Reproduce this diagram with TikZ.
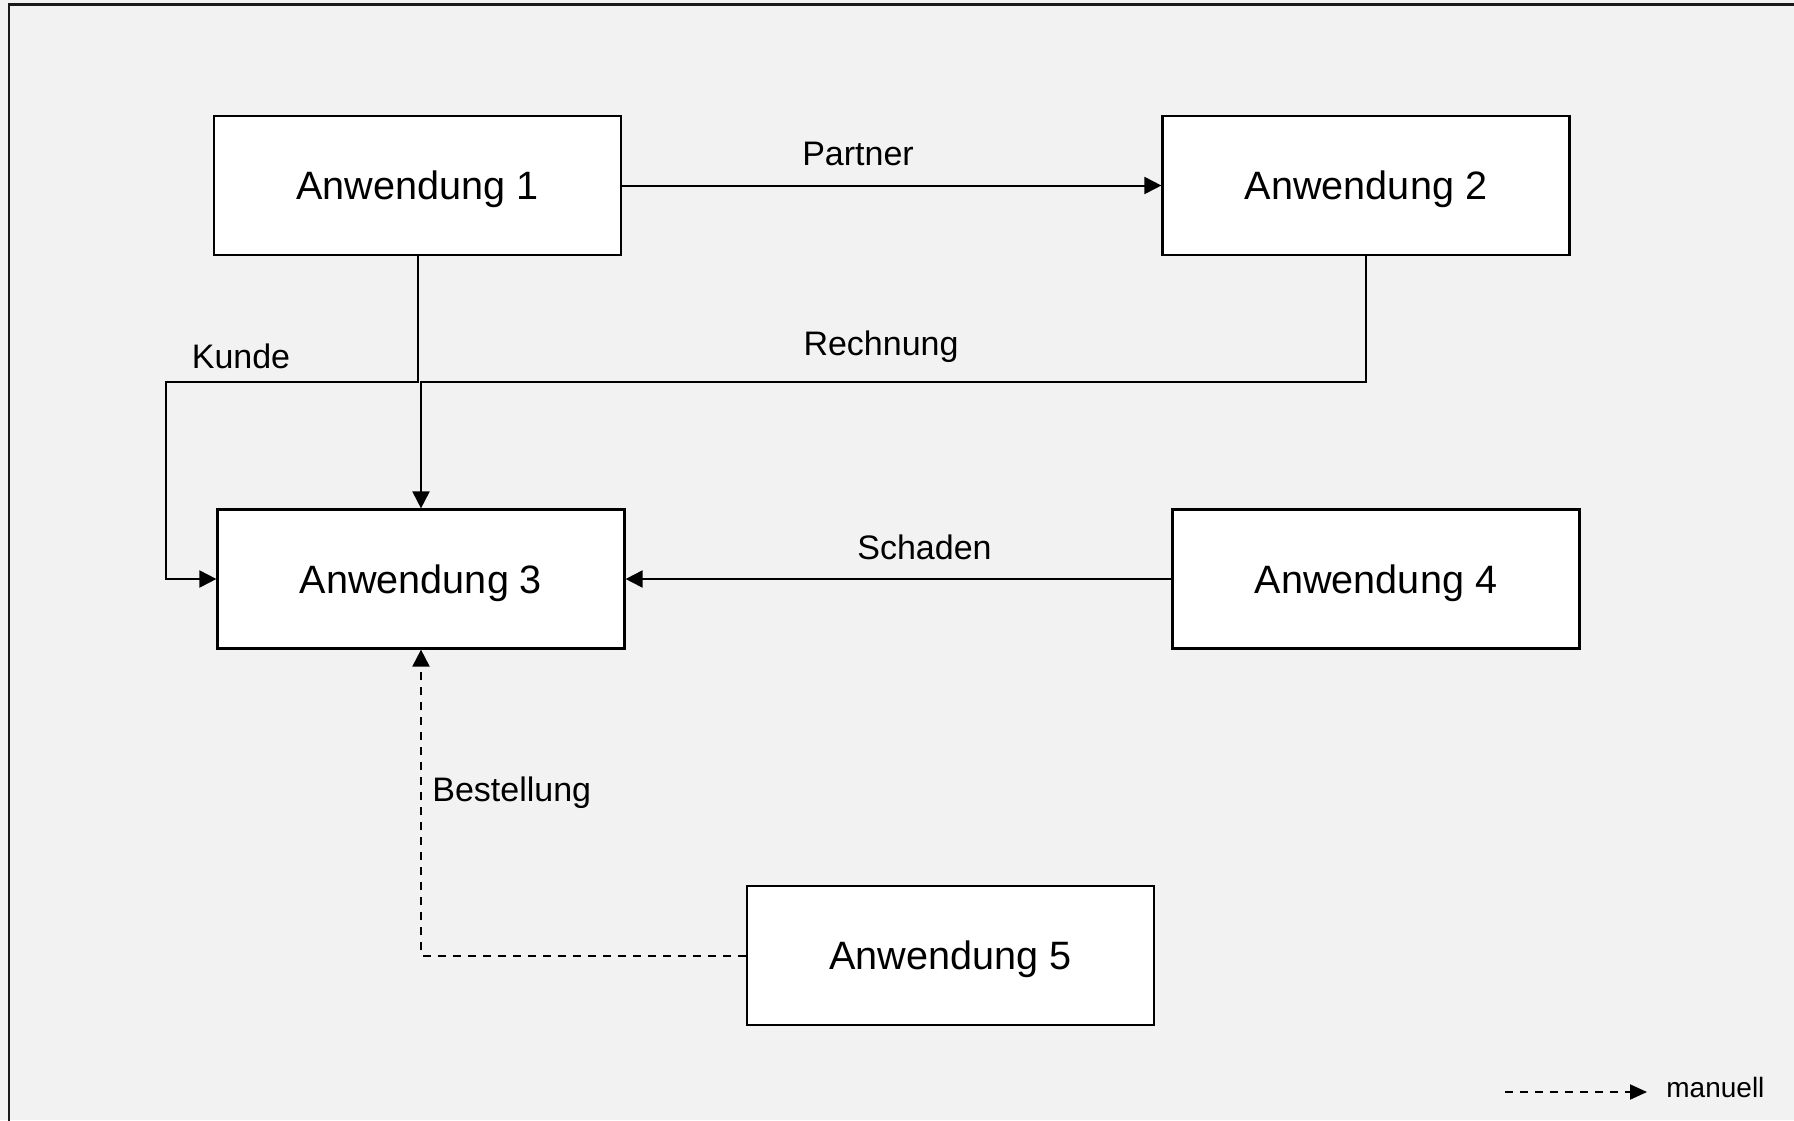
\documentclass[tikz,border=0pt]{standalone}
\usepackage{fontspec}
\setmainfont{Liberation Sans}
\usetikzlibrary{arrows.meta}
\definecolor{canvas}{HTML}{F2F2F2}
\begin{document}
\begin{tikzpicture}[x=0.5pt,y=-0.5pt,
  appbox/.style={draw=black,line width=1.1pt,fill=white,minimum width=203.5pt,
    minimum height=69.5pt,inner sep=0pt,text depth=0pt,font=\fontsize{19.8}{24}\selectfont},
  flow/.style={line width=1pt,-{Triangle[length=8.5pt,width=8.5pt]}},
  manual/.style={line width=1pt,dash pattern=on 4pt off 3.5pt},
  lbl/.style={font=\fontsize{17}{20}\selectfont,inner sep=0pt,text depth=0pt},
]
% page and frame
\fill[canvas] (0,0) rectangle (1794,1120);
\useasboundingbox (0,0) rectangle (1794,1120);
\draw[line width=1.4pt,black!90] (9,1125) -- (9,4.5) -- (1800,4.5);

% applications
\node[appbox] (a1) at (417.5,185.5) {Anwendung 1};
\node[appbox] (a2) at (1366,185.5) {Anwendung 2};
\node[appbox] (a3) at (421,579) {Anwendung 3};
\node[appbox] (a4) at (1376,579) {Anwendung 4};
\node[appbox] (a5) at (950.5,955.5) {Anwendung 5};

% routing points
\coordinate (k1) at (417.5,382);
\coordinate (k2) at (166,382);
\coordinate (k3) at (166,579);
\coordinate (r1) at (1366,382);
\coordinate (r2) at (421,382);
\coordinate (b1) at (421,955.5);

% data flows
\draw[flow] (a1.east) -- (a2.west);
\draw[flow] (a1.south) -- (k1) -- (k2) -- (k3) -- (a3.west);
\draw[flow] (a2.south) -- (r1) -- (r2) -- (a3.north);
\draw[flow] (a4.west) -- (a3.east);
\draw[flow,manual] (a5.west) -- (b1) -- (a3.south);

% flow labels
\node[lbl] (lp) at (858,154) {Partner};
\node[lbl] (lr) at (881,343) {Rechnung};
\node[lbl] (lk) at (241,356) {Kunde};
\node[lbl] (ls) at (924.5,547) {Schaden};
\node[lbl,anchor=west] (lb) at (432,789) {Bestellung};

% legend
\coordinate (g1) at (1505,1092);
\node[font=\fontsize{14}{17}\selectfont,inner sep=0pt,anchor=west] (gm) at (1666,1087) {manuell};
\draw[flow,manual,-{Triangle[length=8.5pt,width=7.5pt]}] (g1) -- ([xshift=-9.5pt]gm.west |- g1);
\end{tikzpicture}
\end{document}
